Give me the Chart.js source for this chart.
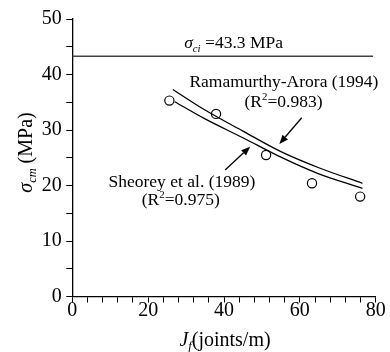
<!DOCTYPE html>
<html>
<head>
<meta charset="utf-8">
<script src="https://cdn.jsdelivr.net/npm/chart.js@4/dist/chart.umd.min.js"></script>
<style>
  html, body { margin: 0; padding: 0; background: #fff; }
  #wrap { width: 390px; height: 352px; }
</style>
</head>
<body>
<div id="wrap"><canvas id="c" width="390" height="352"></canvas></div>
<script>
// Measured rock-mass strength against joint frequency
const jointFreq = [25.6, 37.9, 51.1, 63.2, 75.9];
const measuredStrength = [35.3, 32.9, 25.5, 20.4, 18.0];

// Fitted curves
const ramamurthyJf = [26.5, 35, 45, 55, 65, 76.5];
const ramamurthyStrength = [37.3, 33.6, 29.8, 26.1, 23.2, 20.4];
const sheoreyJf = [27, 35, 45, 55, 65, 76.5];
const sheoreyStrength = [35.1, 32.0, 28.6, 25.1, 22.1, 19.5];

// Intact rock strength reference line
const intactJf = [0, 79.3];
const intactStrength = 43.3;

// Axis ranges and labelled ticks
const xRange = [0, 80];
const yRange = [0, 50];
const xLabelled = [0, 20, 40, 60, 80];
const yLabelled = [0, 10, 20, 30, 40, 50];

const SERIF = '"Liberation Serif", "Times New Roman", serif';

const toPoints = (xs, ys) => xs.map((x, i) => ({ x, y: Array.isArray(ys) ? ys[i] : ys }));

// Text annotations, anchored in data units
const notes = [
  { x: 29.5, y: 44.7, align: 'left', size: 17.5,
    runs: [{ t: 'σ', it: true }, { t: 'ci', it: true, sub: true }, { t: ' =43.3 MPa' }] },
  { x: 55.8, y: 37.7, align: 'center', size: 17.5, runs: [{ t: 'Ramamurthy-Arora (1994)' }] },
  { x: 55.7, y: 34.1, align: 'center', size: 17.5,
    runs: [{ t: '(R' }, { t: '2', sup: true }, { t: '=0.983)' }] },
  { x: 28.9, y: 19.8, align: 'center', size: 17.5, runs: [{ t: 'Sheorey et al. (1989)' }] },
  { x: 28.6, y: 16.4, align: 'center', size: 17.5,
    runs: [{ t: '(R' }, { t: '2', sup: true }, { t: '=0.975)' }] }
];

// Leader arrows (tail -> tip), data units
const arrows = [
  { from: [60.5, 32.2], to: [54.6, 27.5] },
  { from: [40.3, 22.8], to: [46.9, 27.0] }
];

function drawRuns(ctx, runs, x, y, size, align) {
  const parts = runs.map(r => {
    const fs = (r.sub || r.sup) ? size * 0.62 : size;
    const font = (r.it ? 'italic ' : '') + fs + 'px ' + SERIF;
    ctx.font = font;
    return { ...r, font, w: ctx.measureText(r.t).width };
  });
  const total = parts.reduce((a, p) => a + p.w, 0);
  let cx = align === 'center' ? x - total / 2 : x;
  ctx.textAlign = 'left';
  ctx.textBaseline = 'alphabetic';
  for (const p of parts) {
    ctx.font = p.font;
    const dy = p.sub ? size * 0.22 : p.sup ? -size * 0.4 : 0;
    ctx.fillText(p.t, cx, y + dy);
    cx += p.w;
  }
}

const annotate = {
  id: 'annotate',
  afterDatasetsDraw(chart) {
    const { ctx, scales: { x, y }, chartArea } = chart;
    ctx.save();
    ctx.fillStyle = '#000';
    for (const n of notes) {
      drawRuns(ctx, n.runs, x.getPixelForValue(n.x), y.getPixelForValue(n.y), n.size, n.align);
    }
    ctx.strokeStyle = '#000';
    ctx.lineWidth = 1.3;
    for (const a of arrows) {
      const x0 = x.getPixelForValue(a.from[0]), y0 = y.getPixelForValue(a.from[1]);
      const x1 = x.getPixelForValue(a.to[0]), y1 = y.getPixelForValue(a.to[1]);
      const ang = Math.atan2(y1 - y0, x1 - x0);
      const len = 9, hw = 3.6;
      const bx = x1 - len * Math.cos(ang), by = y1 - len * Math.sin(ang);
      ctx.beginPath();
      ctx.moveTo(x0, y0);
      ctx.lineTo(bx, by);
      ctx.stroke();
      ctx.beginPath();
      ctx.moveTo(x1, y1);
      ctx.lineTo(bx + hw * Math.sin(ang), by - hw * Math.cos(ang));
      ctx.lineTo(bx - hw * Math.sin(ang), by + hw * Math.cos(ang));
      ctx.closePath();
      ctx.fill();
    }
    // Axis titles
    const cxm = (chartArea.left + chartArea.right) / 2;
    const xr = [{ t: 'J', it: true }, { t: 'f', it: true, sub: true }, { t: '(joints/m)' }];
    drawRuns(ctx, xr, cxm + 1, chartArea.bottom + 49, 20, 'center');
    ctx.translate(31.5, 152.5);
    ctx.rotate(-Math.PI / 2);
    const yr = [{ t: 'σ', it: true }, { t: 'cm', it: true, sub: true }, { t: ' (MPa)' }];
    drawRuns(ctx, yr, 0, 0, 20, 'center');
    ctx.restore();
  }
};

const tickFont = { family: SERIF, size: 20 };

new Chart(document.getElementById('c'), {
  type: 'scatter',
  data: {
    datasets: [
      {
        label: 'Intact strength',
        data: toPoints(intactJf, intactStrength),
        showLine: true,
        borderColor: '#444',
        borderWidth: 1.6,
        pointRadius: 0
      },
      {
        label: 'Ramamurthy-Arora (1994)',
        data: toPoints(ramamurthyJf, ramamurthyStrength),
        showLine: true,
        borderColor: '#000',
        borderWidth: 1.3,
        pointRadius: 0,
        cubicInterpolationMode: 'monotone'
      },
      {
        label: 'Sheorey et al. (1989)',
        data: toPoints(sheoreyJf, sheoreyStrength),
        showLine: true,
        borderColor: '#000',
        borderWidth: 1.3,
        pointRadius: 0,
        cubicInterpolationMode: 'monotone'
      },
      {
        label: 'Measured',
        data: toPoints(jointFreq, measuredStrength),
        showLine: false,
        pointRadius: 4.6,
        pointBackgroundColor: '#fff',
        pointBorderColor: '#000',
        pointBorderWidth: 1.2
      }
    ]
  },
  options: {
    responsive: false,
    animation: false,
    devicePixelRatio: 1,
    layout: { padding: { top: 19, right: 14.3, left: 0, bottom: 0 } },
    plugins: { legend: { display: false }, tooltip: { enabled: false } },
    scales: {
      x: {
        type: 'linear',
        position: 'bottom',
        min: xRange[0],
        max: xRange[1],
        afterFit: s => { s.height = 55.5; },
        grid: { drawOnChartArea: false, drawTicks: true, tickLength: 6, color: '#000', lineWidth: 1 },
        border: { color: '#000', width: 1.3 },
        ticks: {
          stepSize: 4,
          autoSkip: false,
          maxRotation: 0,
          padding: -4,
          color: '#000',
          font: tickFont,
          callback: v => xLabelled.includes(v) ? String(v) : ''
        }
      },
      y: {
        type: 'linear',
        min: yRange[0],
        max: yRange[1],
        afterFit: s => { s.width = 72.3; },
        grid: { drawOnChartArea: false, drawTicks: true, tickLength: 6, color: '#000', lineWidth: 1 },
        border: { color: '#000', width: 1.3 },
        ticks: {
          stepSize: 5,
          autoSkip: false,
          padding: 4.5,
          color: '#000',
          font: tickFont,
          callback: v => yLabelled.includes(v) ? String(v) : ''
        }
      }
    }
  },
  plugins: [annotate]
});
</script>
</body>
</html>
